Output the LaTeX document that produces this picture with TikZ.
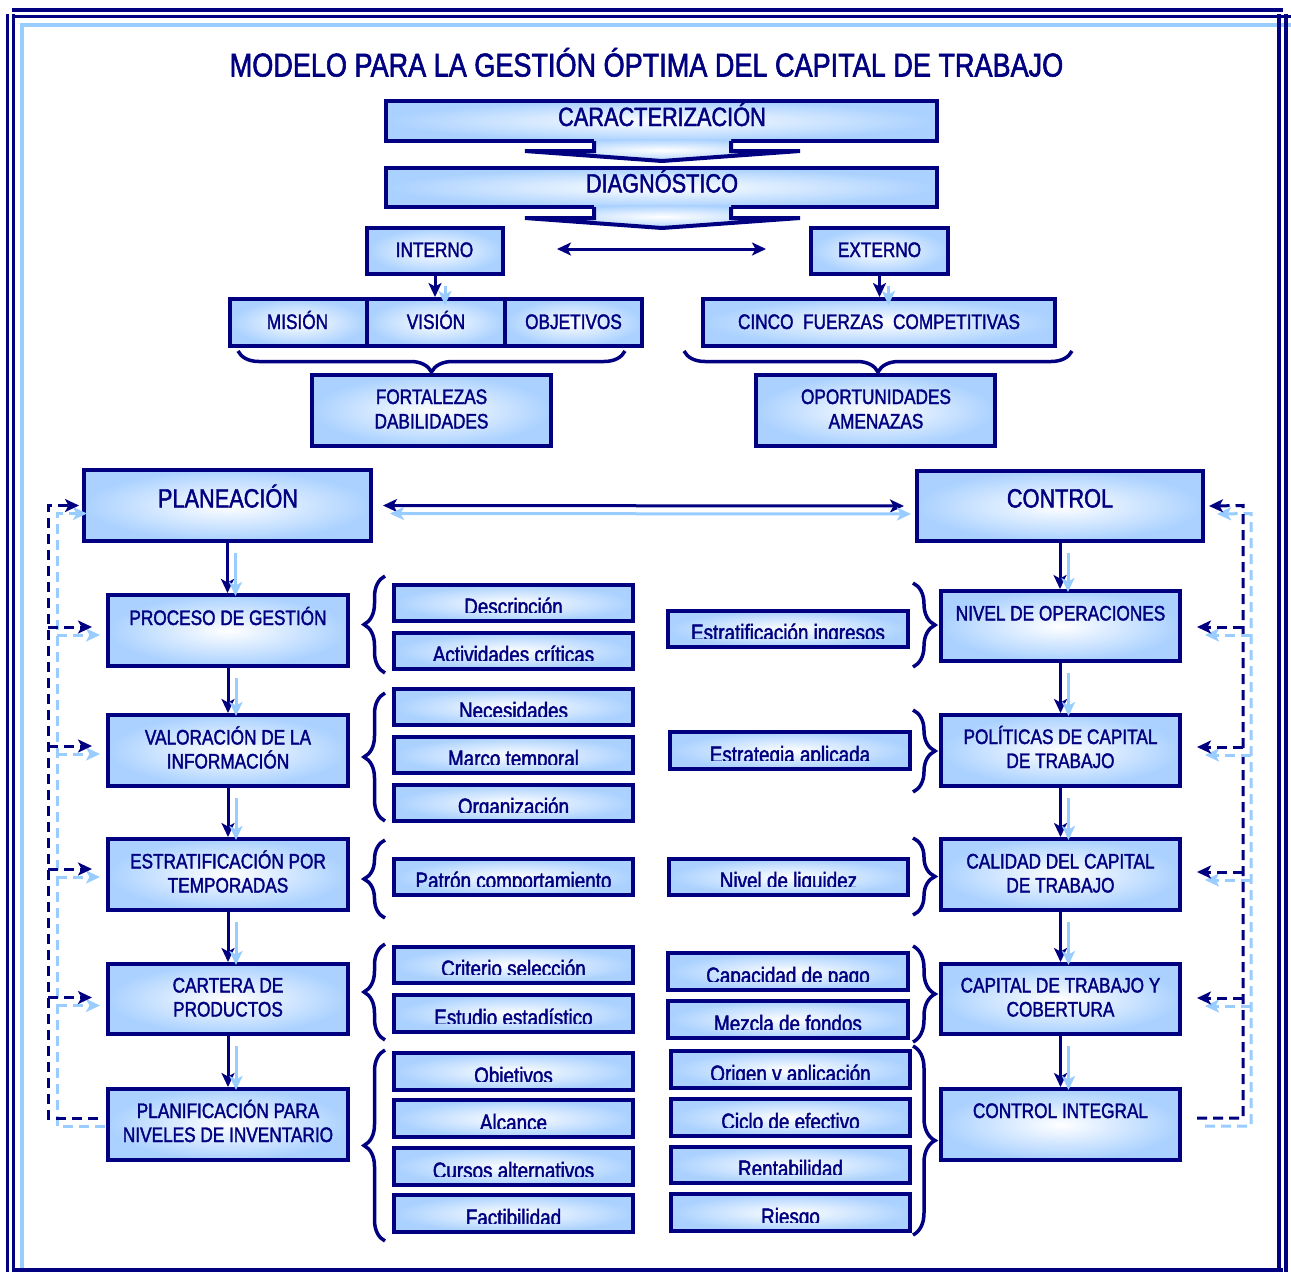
\documentclass[tikz,border=0pt]{standalone}
\usepackage{fontspec}
\setmainfont{Liberation Sans}[FakeStretch=0.82,FakeBold=1.7]
\usetikzlibrary{arrows.meta,decorations.pathreplacing,calc}
\definecolor{navy}{RGB}{0,0,128}
\definecolor{lblue}{RGB}{153,204,255}
\definecolor{boxblue}{RGB}{170,209,255}
\tikzset{
  bigbox/.style={draw=navy, line width=4pt, inner color=white, outer color=boxblue, inner sep=0pt},
  smallbox/.style={draw=navy, line width=4pt, inner color=white, outer color=boxblue, inner sep=0pt},
  btext/.style={text=navy, inner sep=0pt, anchor=base, font=\fontsize{21}{24}\selectfont},
  htext/.style={text=navy, inner sep=0pt, anchor=base, font=\fontsize{26.5}{30}\selectfont},
  ttext/.style={text=navy, inner sep=0pt, anchor=base, font=\fontsize{33}{36}\selectfont},
  stext/.style={text=navy, inner sep=0pt, anchor=base, font=\fontsize{23}{26}\selectfont},
  nav/.style={draw=navy, line width=3pt},
  lb/.style={draw=lblue, line width=3pt},
  ndash/.style={draw=navy, line width=3pt, dash pattern=on 10pt off 6pt},
  ldash/.style={draw=lblue, line width=3pt, dash pattern=on 10pt off 6pt},
  brc/.style={draw=navy, line width=3.5pt, decorate, decoration={brace, amplitude=#1}},
  brc/.default=21pt,
  frame/.style={draw=navy, line width=3.5pt},
  lframe/.style={draw=lblue, line width=4pt}
}
\newcommand\bx[5]{\node[bigbox, minimum width={#4-#2-4}, minimum height={#5-#3-4}] (#1) at ({(#2+#4)/2},{(#3+#5)/2}) {};}
\newcommand\tx[4][btext]{\node[#1] (#2) at (#3) {#4};}
\newcommand\smb[6]{%
  \node[smallbox, minimum width={#4-#2-4}, minimum height={#5-#3-4}] (#1) at ({(#2+#4)/2},{(#3+#5)/2}) {};
  \begin{scope}
    \clip (#2,#3) rectangle (#4,#5-11);
    \node[stext] (#1-t) at ({(#2+#4)/2},#5-8.5) {#6};
  \end{scope}}
\begin{document}
\begin{tikzpicture}[x=1pt,y=-1pt, >={Stealth[length=14pt,width=13pt,inset=3.5pt]}]
\useasboundingbox (0,0) rectangle (1291,1272);
% frame
\draw[frame] (12,10) -- (1283,10);
\draw[frame] (12,16.5) -- (1291,16.5);
\draw[lframe] (20,24.5) -- (1291,24.5);
\draw[frame] (7.3,14) -- (7.3,1272);
\draw[frame] (13.7,14) -- (13.7,1272);
\draw[lframe] (22,22.5) -- (22,1268);
\draw[frame] (1279,14) -- (1279,1272);
\draw[frame] (1286,14) -- (1286,1272);
\draw[frame] (12,1270) -- (1283,1270);
% title
\node[ttext] (title) at (646.5,76.5) {MODELO PARA LA GESTIÓN ÓPTIMA DEL CAPITAL DE TRABAJO};
% top boxes and block arrows
\bx{cara}{384}{99}{939}{143}
\path[inner color=white, outer color=boxblue] (594,139) -- (594,151) -- (525,151) -- (662,161) -- (800,151) -- (731,151) -- (731,139) -- cycle;
\draw[navy, line width=4pt, line join=miter] (594,141) -- (594,151) -- (525,151) -- (662,161) -- (800,151) -- (731,151) -- (731,141);
\bx{diag}{384}{166}{939}{209}
\path[inner color=white, outer color=boxblue] (594,205) -- (594,218) -- (525,218) -- (662,228) -- (800,218) -- (731,218) -- (731,205) -- cycle;
\draw[navy, line width=4pt, line join=miter] (594,207) -- (594,218) -- (525,218) -- (662,228) -- (800,218) -- (731,218) -- (731,207);
\tx[htext]{t-cara}{662,126}{CARACTERIZACIÓN}
\tx[htext]{t-diag}{662,192.5}{DIAGNÓSTICO}
\bx{int}{365}{226}{505}{276}
\bx{ext}{809}{226}{950}{276}
\tx{t-int}{434.5,257}{INTERNO}
\tx{t-ext}{879.5,257}{EXTERNO}
\bx{mis}{228}{297}{369}{348}
\bx{vis}{365}{297}{507}{348}
\bx{obj}{503}{297}{644}{348}
\tx{t-mis}{297.5,329}{MISIÓN}
\tx{t-vis}{436,329}{VISIÓN}
\tx{t-obj}{573.5,329}{OBJETIVOS}
\bx{fort}{310}{373}{553}{448}
\tx{t-fort1}{431.5,404}{FORTALEZAS}
\tx{t-fort2}{431.5,428.5}{DABILIDADES}
\bx{cinco}{701}{297}{1057}{348}
\tx{t-cinco}{879,329}{CINCO\ \ FUERZAS\ \ COMPETITIVAS}
\bx{opor}{754}{373}{997}{448}
\tx{t-opor1}{876,404}{OPORTUNIDADES}
\tx{t-opor2}{876,428.5}{AMENAZAS}
% main columns
\bx{plan}{82}{468}{373}{543}
\bx{ctrl}{915}{469}{1205}{543}
\tx[htext]{t-plan}{228,507.5}{PLANEACIÓN}
\tx[htext]{t-ctrl}{1060,507.5}{CONTROL}
\bx{proc}{106}{593}{350}{668}
\bx{valo}{106}{713}{350}{788}
\bx{estr}{106}{837}{350}{912}
\bx{cart}{106}{962}{350}{1036}
\bx{plnf}{106}{1087}{350}{1162}
\tx{t-proc}{228,625}{PROCESO DE GESTIÓN}
\tx{t-valo1}{228,744.5}{VALORACIÓN DE LA}
\tx{t-valo2}{228,768.5}{INFORMACIÓN}
\tx{t-estr1}{228,868.5}{ESTRATIFICACIÓN POR}
\tx{t-estr2}{228,892.5}{TEMPORADAS}
\tx{t-cart1}{228,992.5}{CARTERA DE}
\tx{t-cart2}{228,1016.5}{PRODUCTOS}
\tx{t-plnf1}{228,1118}{PLANIFICACIÓN PARA}
\tx{t-plnf2}{228,1142}{NIVELES DE INVENTARIO}
\bx{nivo}{939}{589}{1182}{663}
\bx{poli}{939}{713}{1182}{788}
\bx{cali}{939}{837}{1182}{912}
\bx{capt}{939}{962}{1182}{1036}
\bx{cint}{939}{1087}{1182}{1162}
\tx{t-nivo}{1060.5,620.5}{NIVEL DE OPERACIONES}
\tx{t-poli1}{1060.5,744}{POLÍTICAS DE CAPITAL}
\tx{t-poli2}{1060.5,768}{DE TRABAJO}
\tx{t-cali1}{1060.5,868.5}{CALIDAD DEL CAPITAL}
\tx{t-cali2}{1060.5,892.5}{DE TRABAJO}
\tx{t-capt1}{1060.5,992.5}{CAPITAL DE TRABAJO Y}
\tx{t-capt2}{1060.5,1016.5}{COBERTURA}
\tx{t-cint}{1060.5,1118}{CONTROL INTEGRAL}
% small boxes
\smb{d1}{392}{583}{635}{623}{Descripción}
\smb{d2}{392}{631}{635}{671}{Actividades críticas}
\smb{d3}{392}{687}{635}{727}{Necesidades}
\smb{d4}{392}{735}{635}{775}{Marco temporal}
\smb{d5}{392}{783}{635}{823}{Organización}
\smb{d6}{392}{857}{635}{897}{Patrón comportamiento}
\smb{d7}{392}{945}{635}{985}{Criterio selección}
\smb{d8}{392}{993}{635}{1034}{Estudio estadístico}
\smb{d9}{392}{1051}{635}{1092}{Objetivos}
\smb{d10}{392}{1098}{635}{1139}{Alcance}
\smb{d11}{392}{1146}{635}{1187}{Cursos alternativos}
\smb{d12}{392}{1193}{635}{1234}{Factibilidad}
\smb{e1}{666}{609}{910}{649}{Estratificación ingresos}
\smb{e2}{668}{730}{912}{771}{Estrategia aplicada}
\smb{e3}{667}{857}{910}{897}{Nivel de liquidez}
\smb{e4}{666}{951}{910}{992}{Capacidad de pago}
\smb{e5}{666}{999}{910}{1040}{Mezcla de fondos}
\smb{e6}{669}{1049}{912}{1090}{Origen y aplicación}
\smb{e7}{669}{1097}{912}{1138}{Ciclo de efectivo}
\smb{e8}{669}{1145}{912}{1185}{Rentabilidad}
\smb{e9}{669}{1192}{912}{1233}{Riesgo}
% connectors top
\draw[nav,<->,shorten <=52pt,shorten >=43pt] ([yshift=2pt]int.east) -- ([yshift=2pt]ext.west);
\draw[nav,->] (int.south) -- (int.south |- vis.north);
\draw[lb,->] ($(int.south)+(10,10)$) -- ($(int.south |- vis.north)+(10,8)$);
\draw[nav,->] (ext.south) -- (ext.south |- cinco.north);
\draw[lb,->] ($(ext.south)+(9,10)$) -- ($(ext.south |- cinco.north)+(9,8)$);
% planeacion <-> control
\draw[nav,<->,shorten <=10pt,shorten >=11pt] (plan.east) -- (ctrl.west);
\draw[lb,<->,shorten <=17pt,shorten >=4pt] ($(plan.east)+(0,8)$) -- ($(ctrl.west)+(0,8)$);
% vertical chains
\foreach \a/\b in {plan/proc,proc/valo,valo/estr,estr/cart,cart/plnf,ctrl/nivo,nivo/poli,poli/cali,cali/capt,capt/cint}{
  \draw[nav,->] (\a.south) -- (\a.south |- \b.north);
  \draw[lb,->] ($(\a.south)+(8,10)$) -- ($(\a.south |- \b.north)+(8,3)$);
}
% left feedback bus
\coordinate (busLn) at (48,505.5);
\coordinate (busLl) at (57,513.5);
\draw[ldash,->] ($(plnf.west)+(-1,1.5)$) -| (busLl) -- ($(plan.west)+(5,8)$);
\draw[ndash,->] ($(plnf.west)+(-8,-6.5)$) -| (busLn) -- ($(plan.west)+(-3,0)$);
\foreach \n/\d in {proc/-3.5,valo/-4.5,estr/-5.5,cart/-1.5}{
  \draw[ldash,->] ($(busLl |- \n.west)+(0,\d+8)$) -- ($(\n.west)+(-6,\d+8)$);
  \draw[ndash,->] ($(busLn |- \n.west)+(0,\d)$) -- ($(\n.west)+(-14,\d)$);
}
% right feedback bus
\coordinate (busRn) at (1243,505.5);
\coordinate (busRl) at (1251,513.5);
\draw[ldash,->] ($(cint.east)+(23,1.5)$) -| (busRl) -- ($(ctrl.east)+(12,8)$);
\draw[ndash,->] ($(cint.east)+(15,-6.5)$) -| (busRn) -- ($(ctrl.east)+(4,0)$);
\foreach \n/\d in {nivo/1,poli/-3.5,cali/-2.5,capt/-1}{
  \draw[ldash,->] ($(busRl |- \n.east)+(0,\d+8)$) -- ($(\n.east)+(23,\d+8)$);
  \draw[ndash,->] ($(busRn |- \n.east)+(0,\d)$) -- ($(\n.east)+(15,\d)$);
}
% braces
\draw[brc] (625,351) -- (238,351);
\draw[brc] (1072,351) -- (684,351);
\draw[brc] (385,673) -- (385,576);
\draw[brc] (385,821) -- (385,693);
\draw[brc] (385,918) -- (385,840);
\draw[brc] (385,1040) -- (385,944);
\draw[brc] (385,1241) -- (385,1050);
\draw[brc=22pt] (913,583) -- (913,667);
\draw[brc=22pt] (913,710) -- (913,792);
\draw[brc=22pt] (913,838) -- (913,915);
\draw[brc=22pt] (913,946) -- (913,1042);
\draw[brc=22pt] (913,1046) -- (913,1235);
\end{tikzpicture}
\end{document}
